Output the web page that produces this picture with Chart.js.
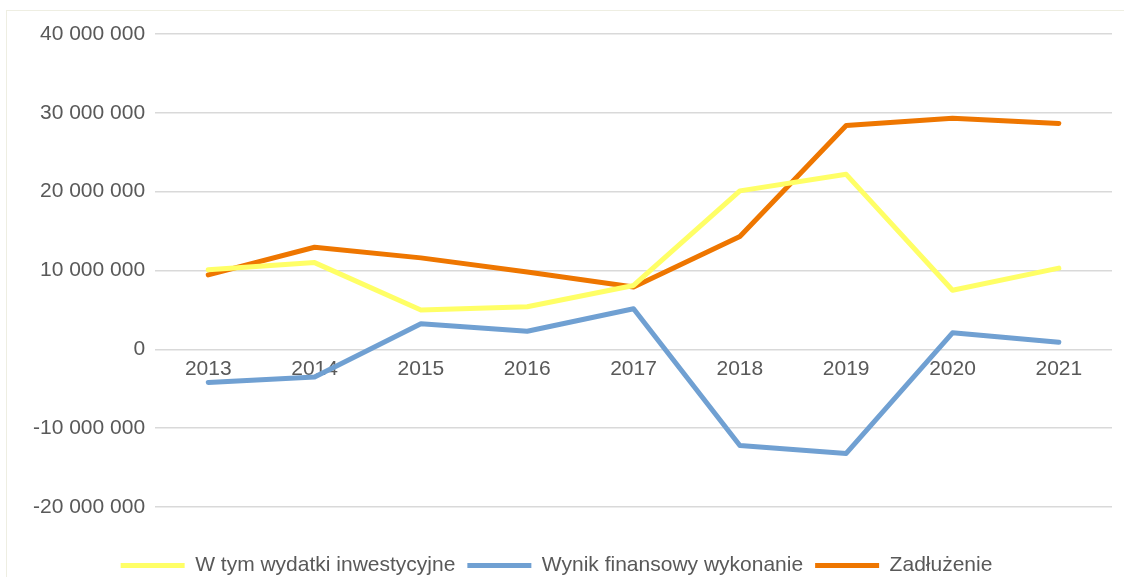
<!DOCTYPE html>
<html>
<head>
<meta charset="utf-8">
<script src="https://cdn.jsdelivr.net/npm/chart.js@4"></script>
<style>
  html, body { margin: 0; padding: 0; background: #fff; overflow: hidden; }
  #frame { position: absolute; left: 6px; top: 10px; width: 1130px; height: 580px; border-left: 1px solid #eeeee2; border-top: 1px solid #eeeee2; box-sizing: border-box; }
  #wrap { position: absolute; left: 0; top: 0; width: 1124px; height: 577px; overflow: hidden; }
</style>
</head>
<body>
<div id="frame"></div>
<div id="wrap"><canvas id="c" width="1124" height="586"></canvas></div>
<script>
const categories = ['2013','2014','2015','2016','2017','2018','2019','2020','2021'];
const seriesNames = ['W tym wydatki inwestycyjne','Wynik finansowy wykonanie','Zadłużenie'];
const wydatki = [10100000, 11000000, 5000000, 5400000, 8100000, 20100000, 22200000, 7500000, 10300000];
const wynik = [-4200000, -3500000, 3250000, 2300000, 5150000, -12200000, -13200000, 2100000, 900000];
const zadluzenie = [9450000, 12950000, 11600000, 9800000, 7900000, 14300000, 28400000, 29300000, 28650000];
const yTicks = [-20000000, -10000000, 0, 10000000, 20000000, 30000000, 40000000];
const colors = ['#FFFF66', '#70A0D2', '#EE7600'];

const fmt = v => {
  const s = Math.abs(v).toString().replace(/\B(?=(\d{3})+(?!\d))/g, ' ');
  return (v < 0 ? '-' : '') + s;
};

const font = { family: "'Liberation Sans', Arial, sans-serif", size: 21 };

const legendShift = {
  id: 'legendShift',
  afterLayout(chart) {
    if (chart.legend) { chart.legend.left -= 11; chart.legend.right -= 11; }
  }
};

new Chart(document.getElementById('c'), {
  type: 'line',
  plugins: [legendShift],
  data: {
    labels: categories,
    datasets: [wydatki, wynik, zadluzenie].map((d, i) => ({
      label: seriesNames[i],
      data: d,
      borderColor: colors[i],
      backgroundColor: colors[i],
      borderWidth: 5,
      pointRadius: 0,
      pointHoverRadius: 0,
      tension: 0,
      borderCapStyle: 'round',
      borderJoinStyle: 'round'
    }))
  },
  options: {
    responsive: false,
    animation: false,
    layout: { padding: { top: 34, right: 12, left: 23, bottom: 0 } },
    scales: {
      x: {
        position: { y: 0 },
        offset: true,
        grid: { display: false, drawTicks: false },
        border: { display: false },
        ticks: { color: '#595959', font: font, padding: 7, maxRotation: 0 }
      },
      xspace: {
        type: 'category',
        labels: categories,
        position: 'bottom',
        display: true,
        grid: { display: false, drawTicks: false },
        border: { display: false },
        ticks: { display: false },
        afterFit: s => { s.height = 36; }
      },
      y: {
        min: -20000000,
        max: 40000000,
        afterBuildTicks: axis => { axis.ticks = yTicks.map(v => ({ value: v })); },
        grid: { color: '#d9d9d9', lineWidth: 1.5, drawTicks: false },
        border: { display: false },
        ticks: { color: '#595959', font: font, padding: 10, callback: v => fmt(v) }
      }
    },
    plugins: {
      tooltip: { enabled: false },
      legend: {
        position: 'bottom',
        labels: {
          color: '#595959',
          font: font,
          usePointStyle: true,
          pointStyle: 'line',
          pointStyleWidth: 64,
          boxHeight: 10,
          padding: 12
        }
      }
    }
  }
});
</script>
</body>
</html>
